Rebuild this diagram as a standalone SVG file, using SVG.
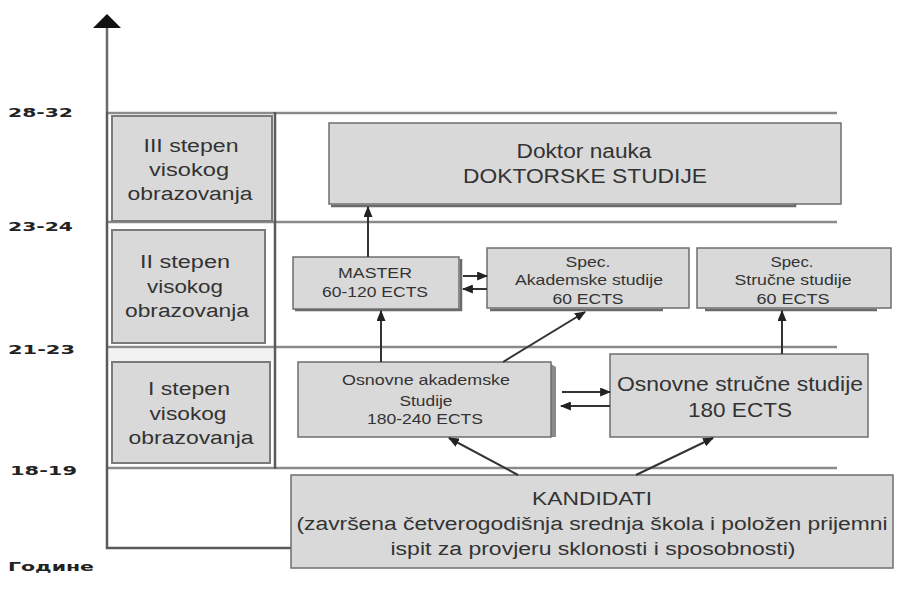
<svg xmlns="http://www.w3.org/2000/svg" width="898" height="607" viewBox="0 0 898 607">
<style>
.box{fill:#d9d9d9;stroke:#6e6e6e;stroke-width:1.5}
.lbox{fill:#d9d9d9;stroke:#7a7a7a;stroke-width:2}
.t{font-family:"Liberation Sans",Arial,sans-serif;fill:#333;text-anchor:middle}
.lab{font-family:"DejaVu Sans","Liberation Sans",sans-serif;font-weight:bold;fill:#222;font-size:13px}
.grid{stroke:#8a8a8a;stroke-width:2.5;fill:none}
.frame{stroke:#5a5a5a;stroke-width:2.5;fill:none}
.con{stroke:#333;stroke-width:2;fill:none}
.shadow{stroke:#6a6a6a;stroke-width:2.5;fill:none}
</style>
<defs>
<marker id="ah" viewBox="0 0 10 10" refX="9" refY="5" markerWidth="11" markerHeight="9" markerUnits="userSpaceOnUse" orient="auto" preserveAspectRatio="none">
<path d="M0,0 L10,5 L0,10 z" fill="#222"/>
</marker>
</defs>
<rect width="898" height="607" fill="#fff"/>

<g id="axis">
<line x1="107" y1="112" x2="107" y2="27" stroke="#6a6a6a" stroke-width="2.5"/>
<polygon points="93,28 121,28 107,14" fill="#111"/>
<line class="grid" x1="107" y1="113" x2="837" y2="113"/>
<line class="grid" x1="107" y1="222" x2="837" y2="222"/>
<line class="grid" x1="107" y1="347" x2="837" y2="347"/>
<line class="grid" x1="107" y1="468" x2="837" y2="468"/>
<path class="frame" d="M107,112 V548 H291"/>
<line class="frame" x1="275" y1="112" x2="275" y2="469"/>
<rect x="109" y="349" width="164" height="12" fill="#f2f2f2"/>
<text class="lab" x="8" y="117" textLength="65" lengthAdjust="spacingAndGlyphs">28-32</text>
<text class="lab" x="8" y="231" textLength="65" lengthAdjust="spacingAndGlyphs">23-24</text>
<text class="lab" x="8" y="354" textLength="67" lengthAdjust="spacingAndGlyphs">21-23</text>
<text class="lab" x="10" y="475" textLength="67" lengthAdjust="spacingAndGlyphs">18-19</text>
<text class="lab" x="8" y="571" textLength="86" lengthAdjust="spacingAndGlyphs">Године</text>
</g>

<g id="level3">
<rect class="lbox" x="112" y="116" width="160" height="105"/>
<text class="t" font-size="18" x="191" y="152" textLength="95" lengthAdjust="spacingAndGlyphs">III stepen</text>
<text class="t" font-size="18" x="189" y="176" textLength="80" lengthAdjust="spacingAndGlyphs">visokog</text>
<text class="t" font-size="18" x="190" y="200" textLength="125" lengthAdjust="spacingAndGlyphs">obrazovanja</text>
</g>
<g id="level2">
<rect class="lbox" x="112" y="230" width="153" height="113"/>
<text class="t" font-size="18" x="185" y="268" textLength="90" lengthAdjust="spacingAndGlyphs">II stepen</text>
<text class="t" font-size="18" x="185" y="293" textLength="76" lengthAdjust="spacingAndGlyphs">visokog</text>
<text class="t" font-size="18" x="187" y="317" textLength="124" lengthAdjust="spacingAndGlyphs">obrazovanja</text>
</g>
<g id="level1">
<rect class="lbox" x="112" y="362" width="158" height="101"/>
<text class="t" font-size="18" x="189" y="395" textLength="82" lengthAdjust="spacingAndGlyphs">I stepen</text>
<text class="t" font-size="18" x="188" y="420" textLength="77" lengthAdjust="spacingAndGlyphs">visokog</text>
<text class="t" font-size="18" x="191" y="444" textLength="125" lengthAdjust="spacingAndGlyphs">obrazovanja</text>
</g>

<g id="doktor">
<path class="shadow" d="M331,206 H795 V203"/>
<rect class="box" x="329" y="123" width="512" height="81"/>
<text class="t" font-size="20" x="584" y="158" textLength="135" lengthAdjust="spacingAndGlyphs">Doktor nauka</text>
<text class="t" font-size="20" x="585" y="183" textLength="244" lengthAdjust="spacingAndGlyphs">DOKTORSKE STUDIJE</text>
</g>

<g id="master">
<path class="shadow" d="M461,259 V310 H295"/>
<rect class="box" x="293" y="257" width="166" height="52"/>
<text class="t" font-size="15" x="375" y="278" textLength="74" lengthAdjust="spacingAndGlyphs">MASTER</text>
<text class="t" font-size="15" x="375" y="297" textLength="106" lengthAdjust="spacingAndGlyphs">60-120 ECTS</text>
</g>

<g id="specAkad">
<path class="shadow" d="M490,310 H663"/>
<rect class="box" x="487" y="248" width="202" height="60"/>
<text class="t" font-size="15" x="588" y="267" textLength="45" lengthAdjust="spacingAndGlyphs">Spec.</text>
<text class="t" font-size="15" x="589" y="285" textLength="148" lengthAdjust="spacingAndGlyphs">Akademske studije</text>
<text class="t" font-size="15" x="588" y="304" textLength="71" lengthAdjust="spacingAndGlyphs">60 ECTS</text>
</g>

<g id="specStrucne">
<path class="shadow" d="M705,310 H877"/>
<rect class="box" x="697" y="248" width="194" height="60"/>
<text class="t" font-size="15" x="792" y="267" textLength="43" lengthAdjust="spacingAndGlyphs">Spec.</text>
<text class="t" font-size="15" x="793" y="285" textLength="117" lengthAdjust="spacingAndGlyphs">Stručne studije</text>
<text class="t" font-size="15" x="793" y="304" textLength="73" lengthAdjust="spacingAndGlyphs">60 ECTS</text>
</g>

<g id="osnAkad">
<path d="M551,364 L556,367 V437 H551 z" fill="#8a8a8a"/>
<rect class="box" x="298" y="362" width="253" height="75"/>
<text class="t" font-size="15" x="426" y="385" textLength="168" lengthAdjust="spacingAndGlyphs">Osnovne akademske</text>
<text class="t" font-size="15" x="426" y="406" textLength="53" lengthAdjust="spacingAndGlyphs">Studije</text>
<text class="t" font-size="15" x="425" y="424" textLength="116" lengthAdjust="spacingAndGlyphs">180-240 ECTS</text>
</g>

<g id="osnStrucne">
<rect class="box" x="610" y="354" width="258" height="83"/>
<text class="t" font-size="21" x="740" y="391" textLength="246" lengthAdjust="spacingAndGlyphs">Osnovne stručne studije</text>
<text class="t" font-size="21" x="740" y="417" textLength="104" lengthAdjust="spacingAndGlyphs">180 ECTS</text>
</g>

<g id="kandidati">
<rect class="box" x="291" y="475" width="602" height="93"/>
<text class="t" font-size="18" x="592" y="505" textLength="120" lengthAdjust="spacingAndGlyphs">KANDIDATI</text>
<text class="t" font-size="18" x="592" y="530" textLength="591" lengthAdjust="spacingAndGlyphs">(završena četverogodišnja srednja škola i položen prijemni</text>
<text class="t" font-size="18" x="593" y="555" textLength="405" lengthAdjust="spacingAndGlyphs">ispit za provjeru sklonosti i sposobnosti)</text>
</g>

<g id="connectors">
<line class="con" stroke-width="2.5" x1="368" y1="257" x2="368" y2="207" marker-end="url(#ah)"/>
<line class="con" stroke-width="2.5" x1="381" y1="362" x2="381" y2="311" marker-end="url(#ah)"/>
<line class="con" stroke-width="1.8" x1="503" y1="362" x2="585" y2="312" marker-end="url(#ah)"/>
<line class="con" stroke-width="2.5" x1="782" y1="354" x2="782" y2="311" marker-end="url(#ah)"/>
<line class="con" stroke-width="1.5" x1="463" y1="276" x2="487" y2="276" marker-end="url(#ah)"/>
<line class="con" stroke-width="1.5" x1="487" y1="289" x2="463" y2="289" marker-end="url(#ah)"/>
<line class="con" stroke-width="1.5" x1="562" y1="392" x2="610" y2="392" marker-end="url(#ah)"/>
<line class="con" stroke-width="1.5" x1="610" y1="406" x2="561" y2="406" marker-end="url(#ah)"/>
<line class="con" stroke-width="1.8" x1="518" y1="475" x2="449" y2="438" marker-end="url(#ah)"/>
<line class="con" stroke-width="1.8" x1="636" y1="475" x2="713" y2="438" marker-end="url(#ah)"/>
</g>
</svg>
